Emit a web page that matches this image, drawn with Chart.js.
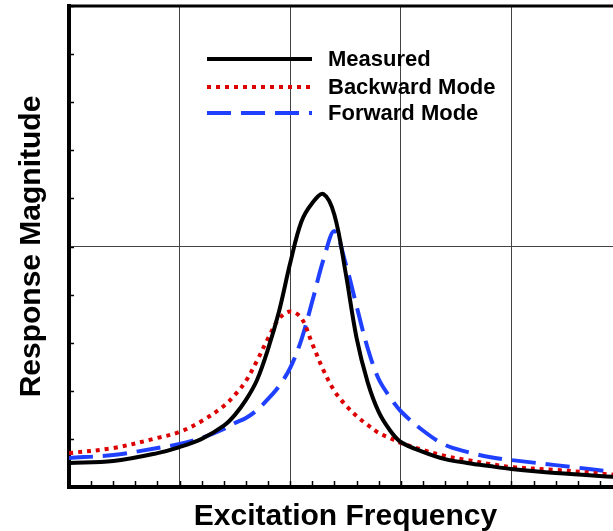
<!DOCTYPE html>
<html>
<head>
<meta charset="utf-8">
<script src="https://cdn.jsdelivr.net/npm/chart.js@4.4.1/dist/chart.umd.min.js"></script>
<style>
    html, body { margin: 0; padding: 0; background: #fff; overflow: hidden; }
    #wrap { width: 623px; height: 531px; }
</style>
</head>
<body>
<div id="wrap"><canvas id="responseChart" width="623" height="531"></canvas></div>
<script>
// Excitation frequency samples (arbitrary units, axis 0..5)
const freq = [0, 0.4, 0.8, 1.0, 1.2, 1.4, 1.5, 1.6, 1.7, 1.8, 1.9, 2.0, 2.1, 2.2, 2.3, 2.4, 2.5, 2.6, 2.7, 2.8, 2.9, 3.0, 3.2, 3.4, 3.6, 3.8, 4.0, 4.4, 5.0];

// Response magnitude (axis 0..2)
const measured = [0.100, 0.108, 0.141, 0.166, 0.200, 0.255, 0.300, 0.362, 0.445, 0.574, 0.732, 0.931, 1.102, 1.181, 1.218, 1.131, 0.894, 0.620, 0.436, 0.312, 0.237, 0.187, 0.146, 0.116, 0.100, 0.087, 0.075, 0.058, 0.040];
const backward = [0.141, 0.162, 0.204, 0.229, 0.274, 0.337, 0.383, 0.441, 0.525, 0.618, 0.700, 0.730, 0.703, 0.595, 0.486, 0.399, 0.341, 0.295, 0.258, 0.225, 0.204, 0.183, 0.154, 0.129, 0.112, 0.096, 0.083, 0.071, 0.048];
const forward = [0.121, 0.133, 0.162, 0.179, 0.204, 0.241, 0.266, 0.287, 0.320, 0.366, 0.420, 0.495, 0.611, 0.773, 0.944, 1.064, 0.931, 0.753, 0.578, 0.449, 0.375, 0.315, 0.235, 0.175, 0.146, 0.125, 0.112, 0.091, 0.059];

const seriesNames = ['Measured', 'Backward Mode', 'Forward Mode'];
const xTitle = 'Excitation Frequency';
const yTitle = 'Response Magnitude';

const FONT = '"Liberation Sans", Arial, sans-serif';

const toPoints = (vals) => vals.map((v, i) => ({ x: freq[i], y: v }));

// Frame, inner minor ticks, legend and axis titles
const decorPlugin = {
    id: 'decor',
    afterDraw(chart) {
        const { ctx, chartArea: area, scales } = chart;
        const xs = scales.x, ys = scales.y;
        ctx.save();

        // top frame line
        ctx.fillStyle = '#000';
        ctx.fillRect(area.left - 2, area.top - 1.5, area.right - area.left + 4, 3);

        // minor ticks pointing into the plot
        ctx.strokeStyle = '#000';
        ctx.lineWidth = 1.5;
        ctx.beginPath();
        for (let v = 0.2; v < 5; v += 0.2) {
            const px = Math.round(xs.getPixelForValue(v)) + 0.5;
            ctx.moveTo(px, area.bottom);
            ctx.lineTo(px, area.bottom - 6);
        }
        for (let v = 0.2; v < 2; v += 0.2) {
            const py = Math.round(ys.getPixelForValue(v)) + 0.5;
            ctx.moveTo(area.left, py);
            ctx.lineTo(area.left + 5, py);
        }
        ctx.stroke();

        // legend
        const rows = [59, 87, 113];
        chart.data.datasets.forEach((ds, i) => {
            ctx.beginPath();
            ctx.setLineDash(ds.borderDash || []);
            ctx.lineWidth = ds.borderWidth;
            ctx.strokeStyle = ds.borderColor;
            ctx.moveTo(207, rows[i]);
            ctx.lineTo(312, rows[i]);
            ctx.stroke();
            ctx.setLineDash([]);
            ctx.fillStyle = '#000';
            ctx.font = 'bold 22px ' + FONT;
            ctx.textAlign = 'left';
            ctx.textBaseline = 'middle';
            ctx.fillText(ds.label, 328, rows[i] + 1);
        });

        // axis titles
        ctx.fillStyle = '#000';
        ctx.font = 'bold 30px ' + FONT;
        ctx.textAlign = 'center';
        ctx.textBaseline = 'alphabetic';
        ctx.fillText(xTitle, 345.5, 525);

        ctx.translate(40, 246.5);
        ctx.rotate(-Math.PI / 2);
        ctx.fillText(yTitle, 0, 0);

        ctx.restore();
    }
};

const axisCommon = {
    type: 'linear',
    ticks: { display: false, stepSize: 1 },
    grid: { color: '#444', lineWidth: 1, drawTicks: false },
    border: { display: true, color: '#000', width: 4 }
};

new Chart(document.getElementById('responseChart'), {
    type: 'line',
    data: {
        datasets: [{
            label: seriesNames[0],
            data: toPoints(measured),
            borderColor: '#000000',
            borderWidth: 4,
            pointRadius: 0,
            tension: 0.35
        }, {
            label: seriesNames[1],
            data: toPoints(backward),
            borderColor: '#dd0000',
            borderWidth: 4,
            borderDash: [4, 5],
            pointRadius: 0,
            tension: 0.35
        }, {
            label: seriesNames[2],
            data: toPoints(forward),
            borderColor: '#2040ff',
            borderWidth: 4,
            borderDash: [24, 10],
            pointRadius: 0,
            tension: 0.35
        }]
    },
    options: {
        responsive: false,
        animation: false,
        layout: { padding: { left: 69, right: 1, top: 6, bottom: 44 } },
        plugins: {
            legend: { display: false },
            tooltip: { enabled: false }
        },
        scales: {
            x: { ...axisCommon, min: 0, max: 5 },
            y: { ...axisCommon, min: 0, max: 2 }
        }
    },
    plugins: [decorPlugin]
});
</script>
</body>
</html>
